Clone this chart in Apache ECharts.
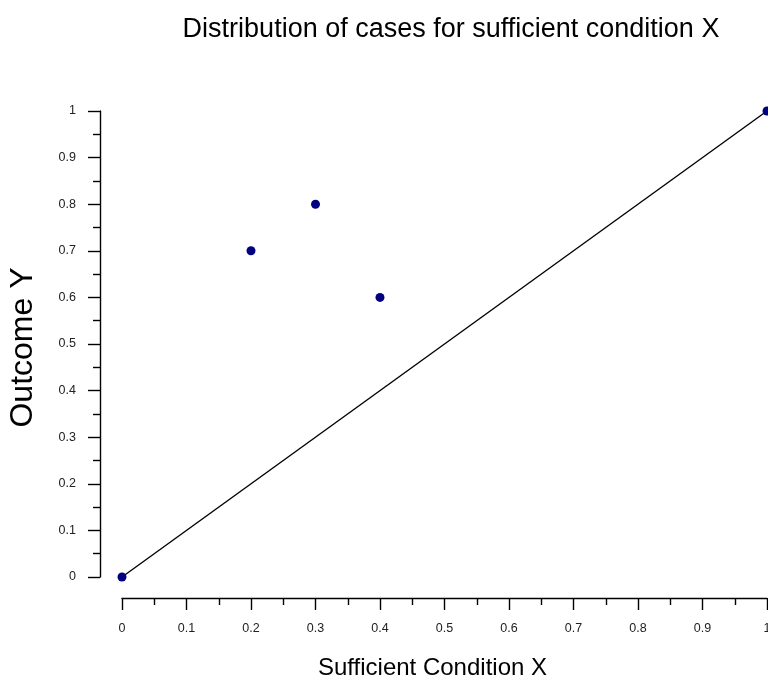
<!DOCTYPE html>
<html>
<head>
<meta charset="utf-8">
<script src="https://cdn.jsdelivr.net/npm/echarts@6/dist/echarts.min.js"></script>
<style>html,body{margin:0;padding:0;background:#fff;overflow:hidden}#c{width:768px;height:675px}</style>
</head>
<body>
<div id="c"></div>
<script>
const caseX = [0, 0.2, 0.3, 0.4, 1];
const caseY = [0, 0.7, 0.8, 0.6, 1];
const diagX = [0, 1];
const diagY = [0, 1];
const titleText = 'Distribution of cases for sufficient condition X';
const xName = 'Sufficient Condition X';
const yName = 'Outcome Y';

const font = 'Liberation Sans, Arial, Helvetica, sans-serif';
const chart = echarts.init(document.getElementById('c'), null, {renderer: 'canvas'});
const axisCommon = {
  type: 'value', min: 0, max: 1, interval: 0.1,
  axisLine: {show: true, onZero: false, lineStyle: {color: '#000', width: 1.4}},
  axisTick: {show: true, length: 12, lineStyle: {color: '#000', width: 1.4}},
  minorTick: {show: true, splitNumber: 2, length: 7, lineStyle: {color: '#000', width: 1.4}},
  splitLine: {show: false},
  minorSplitLine: {show: false},
  axisLabel: {color: '#222', fontSize: 12.5, fontFamily: font, margin: 24,
    formatter: v => String(Math.round(v * 10) / 10)},
  nameLocation: 'middle'
};
chart.setOption({
  animation: false,
  title: {text: titleText, left: 446, top: 11, textAlign: 'center',
    textStyle: {fontSize: 27, fontWeight: 'normal', color: '#000', fontFamily: font}},
  grid: {left: 122, right: 1, top: 111, bottom: 98, containLabel: false, outerBoundsMode: 'none'},
  xAxis: Object.assign({}, axisCommon, {offset: 21, name: xName, nameGap: 58,
    nameTextStyle: {color: '#000', fontSize: 24, fontFamily: font, padding: [0, 24, 0, 0]}}),
  yAxis: Object.assign({}, axisCommon, {offset: 22, name: yName, nameGap: 61,
    axisLabel: Object.assign({}, axisCommon.axisLabel, {padding: [5, 0, 0, 0]}),
    nameTextStyle: {color: '#000', fontSize: 32, fontFamily: font, padding: [0, 7, 0, 0]}}),
  series: [
    {type: 'line', data: diagX.map((x, i) => [x, diagY[i]]), symbol: 'none',
      lineStyle: {color: '#000', width: 1.4}, z: 1},
    {type: 'scatter', data: caseX.map((x, i) => [x, caseY[i]]), symbolSize: 9,
      itemStyle: {color: '#000080', opacity: 1}, clip: false, z: 2}
  ]
});
</script>
</body>
</html>
